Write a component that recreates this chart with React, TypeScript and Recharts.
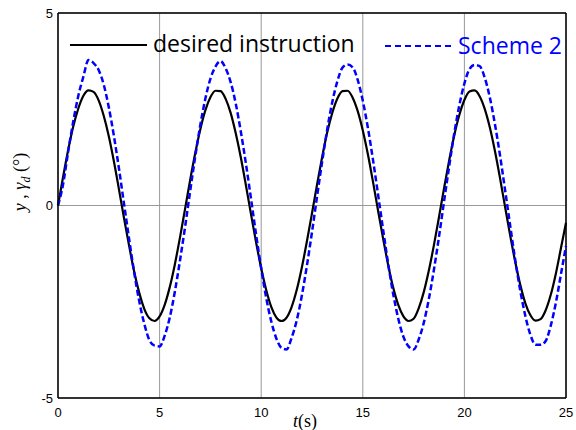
import { LineChart, Line, XAxis, YAxis, CartesianGrid, ReferenceLine } from 'recharts';

// time axis, sampled every 0.25 s
const times = [
  0, 0.25, 0.5, 0.75, 1, 1.25, 1.5, 1.75, 2, 2.25, 2.5, 2.75, 3, 3.25, 3.5, 3.75, 4, 4.25, 4.5, 4.75,
  5, 5.25, 5.5, 5.75, 6, 6.25, 6.5, 6.75, 7, 7.25, 7.5, 7.75, 8, 8.25, 8.5, 8.75, 9, 9.25, 9.5, 9.75,
  10, 10.25, 10.5, 10.75, 11, 11.25, 11.5, 11.75, 12, 12.25, 12.5, 12.75, 13, 13.25, 13.5, 13.75, 14, 14.25, 14.5, 14.75,
  15, 15.25, 15.5, 15.75, 16, 16.25, 16.5, 16.75, 17, 17.25, 17.5, 17.75, 18, 18.25, 18.5, 18.75, 19, 19.25, 19.5, 19.75,
  20, 20.25, 20.5, 20.75, 21, 21.25, 21.5, 21.75, 22, 22.25, 22.5, 22.75, 23, 23.25, 23.5, 23.75, 24, 24.25, 24.5, 24.75, 25,
];

// desired instruction (black)
const desired = [
  0, 0.74, 1.44, 2.05, 2.52, 2.85, 2.99, 2.95, 2.73, 2.33, 1.80, 1.15, 0.42, -0.33, -1.05, -1.72, -2.27, -2.69, -2.93, -3.0,
  -2.88, -2.58, -2.12, -1.53, -0.84, -0.10, 0.65, 1.35, 1.97, 2.47, 2.81, 2.98, 2.97, 2.77, 2.40, 1.87, 1.24, 0.52, -0.23, -0.96,
  -1.63, -2.20, -2.64, -2.91, -3.0, -2.91, -2.63, -2.19, -1.61, -0.93, -0.20, 0.55, 1.26, 1.90, 2.41, 2.78, 2.97, 2.98, 2.80, 2.45,
  1.95, 1.33, 0.62, -0.13, -0.86, -1.55, -2.14, -2.59, -2.88, -3.0, -2.94, -2.67, -2.25, -1.69, -1.03, -0.30, 0.45, 1.17, 1.82, 2.35,
  2.74, 2.96, 2.99, 2.84, 2.51, 2.03, 1.42, 0.72, -0.03, -0.77, -1.46, -2.06, -2.54, -2.85, -2.99, -2.95, -2.72, -2.32, -1.77, -1.11, -0.45,
];

// Scheme 2 (blue dashed)
const scheme2 = [
  0, 0.55, 1.40, 2.18, 2.85, 3.35, 3.78, 3.70, 3.52, 3.14, 2.55, 1.81, 0.96, 0.04, -0.87, -1.74, -2.49, -3.08, -3.50, -3.64,
  -3.66, -3.38, -2.91, -2.24, -1.44, -0.57, 0.36, 1.26, 2.08, 2.77, 3.29, 3.61, 3.75, 3.56, 3.20, 2.64, 1.91, 1.08, 0.17, -0.76,
  -1.63, -2.41, -3.02, -3.46, -3.70, -3.74, -3.43, -2.98, -2.34, -1.56, -0.69, 0.24, 1.14, 1.98, 2.69, 3.23, 3.58, 3.66, 3.59, 3.26,
  2.72, 2.02, 1.19, 0.29, -0.63, -1.52, -2.31, -2.95, -3.41, -3.66, -3.74, -3.48, -3.05, -2.43, -1.67, -0.81, 0.11, 1.02, 1.87, 2.60,
  3.17, 3.54, 3.65, 3.62, 3.32, 2.81, 2.12, 1.31, 0.41, -0.51, -1.41, -2.21, -2.87, -3.36, -3.62, -3.62, -3.52, -3.12, -2.53, -1.79, -1.05,
];

const xTicks = [0, 5, 10, 15, 20, 25];
const yTicks = [-5, 0, 5];

const data = times.map((t, i) => ({ t, desired: desired[i], scheme2: scheme2[i] }));

const tickStyle = { fontFamily: '"Liberation Sans", Arial, sans-serif', fontSize: 13, fill: '#000' };

const App = () => {
  return (
    <div style={{ position: 'absolute', left: 0, top: 0, width: 576, height: 430, background: '#fff' }}>
      <LineChart width={576} height={430} data={data} margin={{ top: 13, right: 10, bottom: 0, left: 18 }}>
        <CartesianGrid stroke="#999" strokeWidth={1} />
        <XAxis
          dataKey="t"
          type="number"
          domain={[0, 25]}
          ticks={xTicks}
          height={32}
          tick={tickStyle}
          tickLine={false}
          tickSize={4}
          tickMargin={6}
          axisLine={{ stroke: '#000', strokeWidth: 1.5 }}
        />
        <YAxis
          type="number"
          domain={[-5, 5]}
          ticks={yTicks}
          width={40}
          tick={tickStyle}
          tickLine={false}
          tickSize={4}
          tickMargin={1}
          axisLine={{ stroke: '#000', strokeWidth: 1.5 }}
        />
        <ReferenceLine y={5} stroke="#000" strokeWidth={1.5} />
        <ReferenceLine x={25} stroke="#000" strokeWidth={1.5} />
        <Line type="monotone" dataKey="desired" stroke="#000" strokeWidth={2.2} dot={false} isAnimationActive={false} />
        <Line
          type="monotone"
          dataKey="scheme2"
          stroke="#0000ff"
          strokeWidth={2.5}
          strokeDasharray="6 3"
          dot={false}
          isAnimationActive={false}
        />
      </LineChart>

      {/* legend */}
      <div style={{ position: 'absolute', left: 70, top: 44, width: 77, height: 2, background: '#000' }} />
      <div
        style={{
          position: 'absolute', left: 153, top: 29, fontFamily: '"Open Sans", sans-serif', fontSize: 23,
          lineHeight: '28px', color: '#000', whiteSpace: 'nowrap',
        }}
      >
        desired instruction
      </div>
      <div style={{ position: 'absolute', left: 385, top: 45, width: 66, height: 0, borderTop: '2.5px dashed #0000ff' }} />
      <div
        style={{
          position: 'absolute', left: 458, top: 31, fontFamily: '"Open Sans", sans-serif', fontSize: 23,
          lineHeight: '28px', color: '#0000ff', whiteSpace: 'nowrap',
        }}
      >
        Scheme 2
      </div>

      {/* axis titles */}
      <div
        style={{
          position: 'absolute', left: 22, top: 182, transform: 'translate(-50%, -50%) rotate(-90deg)',
          fontFamily: '"Liberation Serif", "Times New Roman", serif', fontSize: 18, whiteSpace: 'nowrap', color: '#000',
        }}
      >
        <i>y</i> , <i>γ</i><sub style={{ fontSize: 12 }}><i>d</i></sub> (°)
      </div>
      <div
        style={{
          position: 'absolute', left: 305, top: 421, transform: 'translate(-50%, -50%)',
          fontFamily: '"Liberation Serif", "Times New Roman", serif', fontSize: 18, whiteSpace: 'nowrap', color: '#000',
        }}
      >
        <i>t</i>(s)
      </div>
    </div>
  );
};

export default App;
